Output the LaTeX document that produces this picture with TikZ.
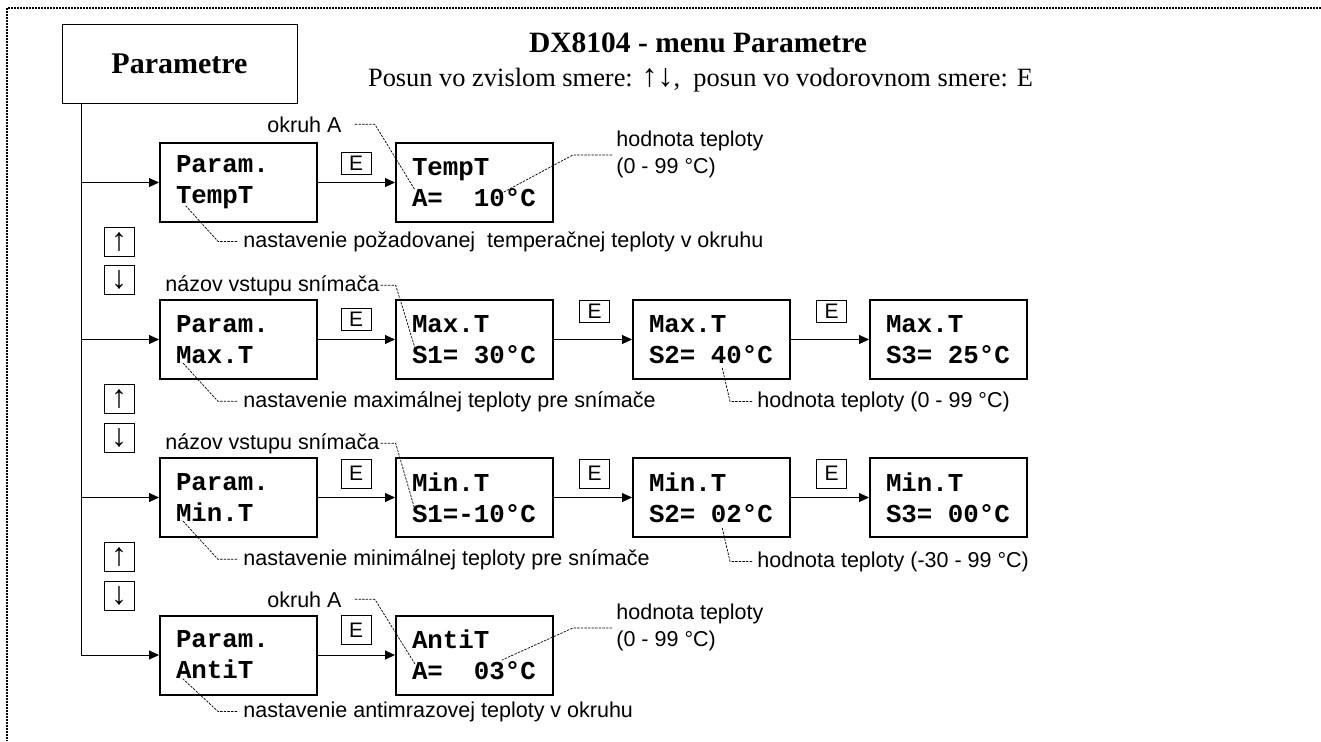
\documentclass[tikz,border=0pt]{standalone}
\usepackage{fontspec}
\setmainfont{Liberation Serif}
\setsansfont{Liberation Sans}
\setmonofont{Liberation Mono}
\usetikzlibrary{arrows.meta, calc}
\newcommand{\mgap}{\hphantom{0}}

\begin{document}
\begin{tikzpicture}[x=0.5pt, y=-0.5pt, >={Triangle[length=5pt, width=4.5pt]},
  lcd/.style={draw, line width=1pt, inner xsep=8pt, inner ysep=0pt,
    text width=62.5pt, minimum height=39.5pt, align=left,
    font={\fontsize{12.9}{15.5}\selectfont\ttfamily\bfseries}},
  key/.style={draw, line width=0.5pt, minimum width=15pt, minimum height=11pt,
    inner sep=0pt, font={\fontsize{10.5}{12}\selectfont\sffamily}},
  keyhi/.style={key, minimum height=14.5pt},
  nav/.style={draw, line width=0.5pt, minimum width=15pt, minimum height=14.5pt,
    inner sep=0pt, font={\fontsize{16}{16}\selectfont\sffamily}},
  note/.style={anchor=base west, inner sep=0pt,
    font={\fontsize{10.75}{13.5}\selectfont\sffamily}},
  lead/.style={line width=0.35pt, dash pattern=on 1.2pt off 0.6pt},
  link/.style={->, line width=0.5pt},
  frame/.style={line width=1pt, dash pattern=on 1pt off 0.5pt}]

  \useasboundingbox (0,0) rectangle (1321,741);
  \draw[frame] (1321,8) -- (7,8) -- (7,741);

  % heading
  \node[draw, line width=0.5pt, minimum width=117.5pt, minimum height=39.5pt,
        font={\fontsize{15}{17}\selectfont\bfseries}] (par) at (179.5,63.5) {Parametre};
  \node[anchor=base, font={\fontsize{14.75}{17}\selectfont\bfseries}] (title) at (698,52)
    {DX8104 - menu Parametre};
  \node[anchor=base, font={\fontsize{13.2}{16}\selectfont}] (sub) at (700.5,86)
    {Posun vo zvislom smere: {\fontsize{16}{16}\selectfont↑↓},\ \ posun vo vodorovnom smere: E};

  % menu boxes
  \node[lcd] (pTemp) at (238.5,182.5) {Param.\\TempT};
  \node[lcd] (dTemp) at (474.5,182.5) {TempT\\A=\mgap\mgap10°C};

  \node[lcd] (pMax)  at (238.5,339.5) {Param.\\Max.T};
  \node[lcd] (dMax1) at (474.5,339.5) {Max.T\\S1=\mgap30°C};
  \node[lcd] (dMax2) at (711.5,339.5) {Max.T\\S2=\mgap40°C};
  \node[lcd] (dMax3) at (948.5,339.5) {Max.T\\S3=\mgap25°C};

  \node[lcd] (pMin)  at (238.5,497.5) {Param.\\Min.T};
  \node[lcd] (dMin1) at (474.5,497.5) {Min.T\\S1=-10°C};
  \node[lcd] (dMin2) at (711.5,497.5) {Min.T\\S2=\mgap02°C};
  \node[lcd] (dMin3) at (948.5,497.5) {Min.T\\S3=\mgap00°C};

  \node[lcd] (pAnti) at (238.5,655) {Param.\\AntiT};
  \node[lcd] (dAnti) at (474.5,655) {AntiT\\A=\mgap\mgap03°C};

  % E keys
  \node[key]   (eTemp) at (356,163) {E};
  \node[key]   (eMax1) at (356,319.5) {E};
  \node[key]   (eMax2) at (594.5,311) {E};
  \node[key]   (eMax3) at (831.5,311) {E};
  \node[keyhi] (eMin1) at (356,473.5) {E};
  \node[keyhi] (eMin2) at (594.5,473.5) {E};
  \node[keyhi] (eMin3) at (831.5,473.5) {E};
  \node[keyhi] (eAnti) at (356,630) {E};

  % up / down keys
  \node[nav] (up1) at (119,241.5) {↑};
  \node[nav] (dn1) at (119,280) {↓};
  \node[nav] (up2) at (119,398.5) {↑};
  \node[nav] (dn2) at (119,438) {↓};
  \node[nav] (up3) at (119,556.5) {↑};
  \node[nav] (dn3) at (119,596) {↓};

  % trunk and arrows
  \coordinate (trk) at (81,0);
  \draw[link] (par.south -| trk) |- (pAnti);
  \foreach \p in {pTemp, pMax, pMin}
    \draw[link] (\p -| trk) -- (\p);
  \draw[link] (pTemp) -- (dTemp);
  \draw[link] (pMax) -- (dMax1);
  \draw[link] (dMax1) -- (dMax2);
  \draw[link] (dMax2) -- (dMax3);
  \draw[link] (pMin) -- (dMin1);
  \draw[link] (dMin1) -- (dMin2);
  \draw[link] (dMin2) -- (dMin3);
  \draw[link] (pAnti) -- (dAnti);

  % notes
  \node[note] (okA1) at (267,132) {okruh A};
  \node[note, anchor=north west, align=left] (hv1) at (616,131) {hodnota teploty\\(0 - 99 °C)};
  \node[note] (nt1) at (243,247) {nastavenie požadovanej\ \ temperačnej teploty v okruhu};

  \node[note] (nz2) at (165,291) {názov vstupu snímača};
  \node[note] (nt2) at (243,407) {nastavenie maximálnej teploty pre snímače};
  \node[note] (hv2) at (757,407) {hodnota teploty (0 - 99 °C)};

  \node[note] (nz3) at (165,449) {názov vstupu snímača};
  \node[note] (nt3) at (243,565) {nastavenie minimálnej teploty pre snímače};
  \node[note] (hv3) at (757,567) {hodnota teploty (-30 - 99 °C)};

  \node[note] (okA4) at (267,607) {okruh A};
  \node[note, anchor=north west, align=left] (hv4) at (616,604) {hodnota teploty\\(0 - 99 °C)};
  \node[note] (nt4) at (243,717) {nastavenie antimrazovej teploty v okruhu};

  % leader points
  \coordinate (cTemp) at (415,190);
  \coordinate (cTempV) at (502,193);
  \coordinate (cTempP) at (185,205);
  \coordinate (cMax) at (415,348);
  \coordinate (cMaxP) at (182,362);
  \coordinate (cMaxV) at (722,367);
  \coordinate (cMin) at (415,510);
  \coordinate (cMinP) at (182,520);
  \coordinate (cMinV) at (722,527);
  \coordinate (cAnti) at (415,664);
  \coordinate (cAntiV) at (502,660);
  \coordinate (cAntiP) at (182,678);

  % leaders
  \draw[lead] ([xshift=6.5pt]okA1.east) -- ++(20,0) -- (cTemp);
  \draw[lead] ([xshift=-2pt]hv1.west) -- ++(-39,0) -- (cTempV);
  \draw[lead] ([xshift=-3pt]nt1.west) -- ++(-19,0) -- (cTempP);
  \draw[lead] ([xshift=0.5pt]nz2.east) -- ++(15,0) -- (cMax);
  \draw[lead] ([xshift=-3pt]nt2.west) -- ++(-19,0) -- (cMaxP);
  \draw[lead] ([xshift=-2.5pt]hv2.west) -- ++(-22,0) -- (cMaxV);
  \draw[lead] ([xshift=0.5pt]nz3.east) -- ++(15,0) -- (cMin);
  \draw[lead] ([xshift=-3pt]nt3.west) -- ++(-19,0) -- (cMinP);
  \draw[lead] ([xshift=-2.5pt]hv3.west) -- ++(-22,0) -- (cMinV);
  \draw[lead] ([xshift=6.5pt]okA4.east) -- ++(20,0) -- (cAnti);
  \draw[lead] ([xshift=-2pt]hv4.west) -- ++(-39,0) -- (cAntiV);
  \draw[lead] ([xshift=-3pt]nt4.west) -- ++(-19,0) -- (cAntiP);
\end{tikzpicture}
\end{document}
